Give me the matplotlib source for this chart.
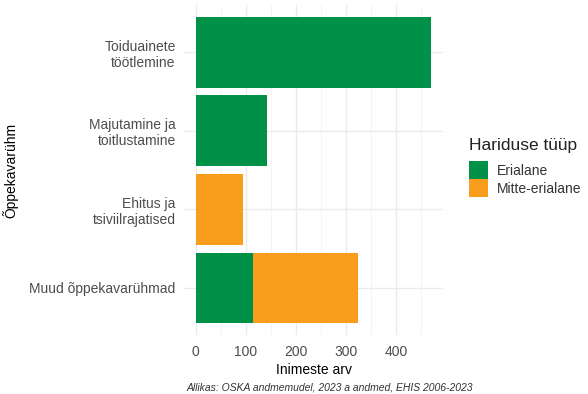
import matplotlib
matplotlib.use("Agg")
import matplotlib.pyplot as plt
from matplotlib.patches import Patch
import numpy as np

plt.rcParams['font.family'] = ['Liberation Sans', 'DejaVu Sans']

categories = ["Toiduainete\ntöötlemine", "Majutamine ja\ntoitlustamine",
              "Ehitus ja\ntsiviilrajatised", "Muud õppekavarühmad"]
erialane = [470, 142, 0, 114]
mitte_erialane = [0, 0, 94, 209]
series_names = ["Erialane", "Mitte-erialane"]
colors = ["#009149", "#F99D1C"]
xticks = [0, 100, 200, 300, 400]

fig = plt.figure(figsize=(5.88, 3.94), dpi=100)
ax = fig.add_axes([184/588, 1-335/394, (443-184)/588, (335-5)/394])

y = np.arange(len(categories))[::-1]
ax.barh(y, erialane, height=0.9, color=colors[0], zorder=3)
ax.barh(y, mitte_erialane, left=erialane, height=0.9, color=colors[1], zorder=3)

totals = np.array(erialane) + np.array(mitte_erialane)
xmax = totals.max()
ax.set_xlim(-0.05*xmax, xmax*1.05)
ax.set_ylim(-0.6, len(categories)-0.4)

ax.set_xticks(xticks)
ax.set_xticks(np.arange(50, xmax, 100), minor=True)
ax.set_yticks(y)
ax.set_yticklabels(categories, ha='right', multialignment='right')
ax.tick_params(axis='both', which='both', length=0, labelsize=10, colors='#4D4D4D')
ax.tick_params(axis='x', pad=7)
ax.tick_params(axis='y', pad=6)
ax.grid(True, which='major', color='#EBEBEB', linewidth=1.0, zorder=0)
ax.grid(True, which='minor', axis='x', color='#F2F2F2', linewidth=0.6, zorder=0)
for s in ax.spines.values():
    s.set_visible(False)

ax.set_xlabel("Inimeste arv", fontsize=10, labelpad=3)
ax.set_ylabel("Õppekavarühm", fontsize=10)
ax.yaxis.set_label_coords((18-184)/259, 0.5)

handles = [Patch(facecolor=c, edgecolor='none') for c in colors]
leg = fig.legend(handles, series_names, title="Hariduse tüüp",
                 loc='upper left', bbox_to_anchor=(469/588, 1-138/394),
                 frameon=False, fontsize=10, title_fontsize=12.5,
                 handlelength=1.4, handleheight=1.6, handletextpad=0.6,
                 labelspacing=0.0, borderaxespad=0, borderpad=0)
leg._legend_box.align = "left"
leg._legend_box.sep = 6
for t in leg.get_texts():
    t.set_color('#333333')
leg.get_title().set_color('#222222')

fig.text(473/588, 1-387/394, "Allikas: OSKA andmemudel, 2023 a andmed, EHIS 2006-2023",
         ha='right', va='center', fontsize=7.5, style='italic', color='#333333')

fig.savefig("out.png", dpi=100)
